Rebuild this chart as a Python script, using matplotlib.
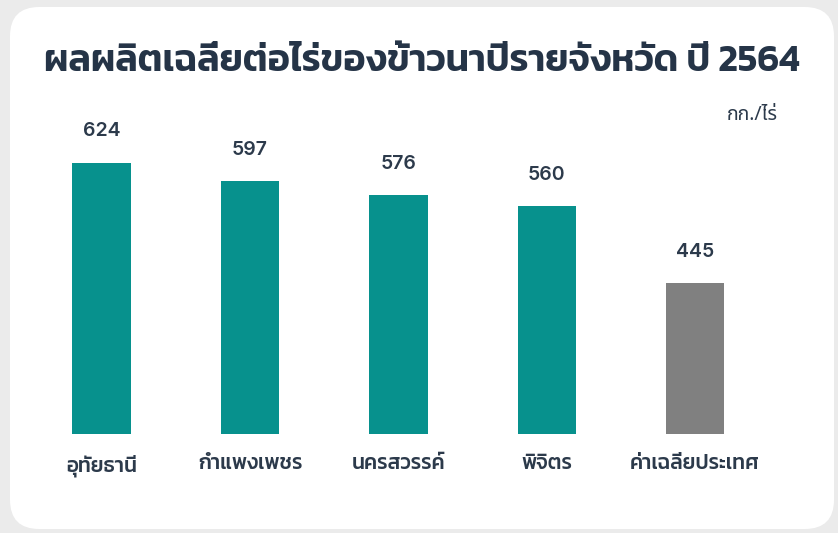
import matplotlib
matplotlib.use("Agg")
import matplotlib.pyplot as plt
from matplotlib.patches import FancyBboxPatch

# data
provinces = ['อุทัยธานี', 'กำแพงเพชร', 'นครสวรรค์', 'พิจิตร', 'ค่าเฉลี่ยประเทศ']
yields = [624, 597, 576, 560, 445]
bar_colors = ['#07918d', '#07918d', '#07918d', '#07918d', '#808080']
title = 'ผลผลิตเฉลี่ยต่อไร่ของข้าวนาปีรายจังหวัด ปี 2564'
unit = 'กก./ไร่'

W, H = 838, 533
text_color = '#2c3a4b'

fig = plt.figure(figsize=(W / 100, H / 100), dpi=100)
fig.patch.set_facecolor('#ebebeb')

# white rounded card behind everything
card = FancyBboxPatch((10 / W, 4 / H), 824 / W, 522 / H,
                      boxstyle='round,pad=0,rounding_size=0.035',
                      transform=fig.transFigure, facecolor='white',
                      edgecolor='none', mutation_aspect=W / H, zorder=-5)
fig.patches.append(card)

ax = fig.add_axes([40 / W, (H - 433.7) / H, 750 / W, 333.7 / H])
ax.set_zorder(2)
ax.set_facecolor('none')
x = list(range(len(provinces)))
bars = ax.bar(x, yields, width=0.393, color=bar_colors, zorder=2)
ax.set_xlim(-0.415, 4.639)
ax.set_ylim(222.3, 716.7)

for b, v in zip(bars, yields):
    ax.annotate(str(v), (b.get_x() + b.get_width() / 2, b.get_height()),
                xytext=(0, 22.5), textcoords='offset points',
                ha='center', va='center', fontsize=14,
                family=['Inter', 'DejaVu Sans'], weight='semibold',
                color=text_color)

ax.set_xticks(x)
ax.set_xticklabels(provinces, family=['Kanit', 'DejaVu Sans'],
                   fontsize=15, weight='medium', color=text_color)
ax.tick_params(axis='x', length=0, pad=15)
ax.set_yticks([])
for s in ax.spines.values():
    s.set_visible(False)

fig.text(422 / W, 1 - 62 / H, title, ha='center', va='center',
         family=['Kanit', 'DejaVu Sans'], weight='semibold', fontsize=27,
         color='#253447')
fig.text(778 / W, 1 - 115 / H, unit, ha='right', va='center',
         family=['Noto Sans Thai', 'DejaVu Sans'], weight='semibold',
         fontsize=14, color=text_color)

fig.savefig('out.png', dpi=100, facecolor=fig.get_facecolor())
